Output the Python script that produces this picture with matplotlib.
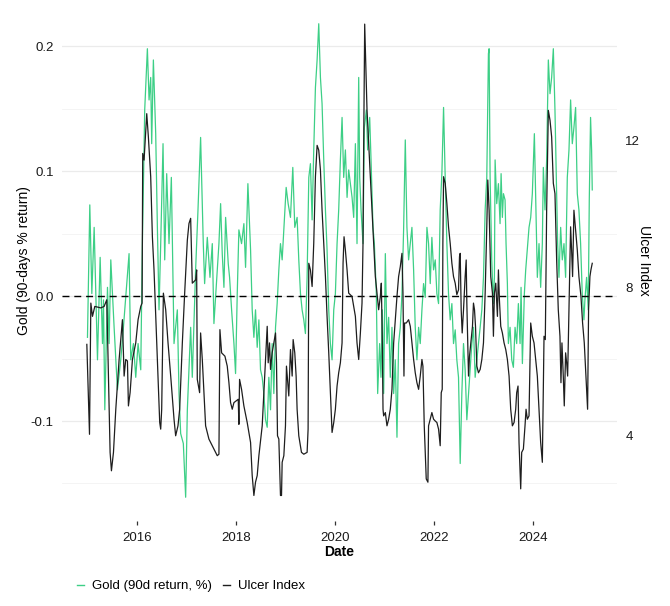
import matplotlib
matplotlib.use("Agg")
import matplotlib.pyplot as plt
from matplotlib.ticker import MultipleLocator, FixedLocator, FuncFormatter
from matplotlib.lines import Line2D

plt.rcParams['font.family'] = ['Liberation Sans', 'DejaVu Sans']

# Gold 90-day return (decimal years, return as fraction)
gold_dates = [
    2015.005, 2015.052, 2015.093, 2015.140, 2015.207, 2015.261, 2015.308, 2015.328, 2015.355, 2015.409,
    2015.442, 2015.476, 2015.543, 2015.610, 2015.677, 2015.731, 2015.778, 2015.845, 2015.879, 2015.933,
    2015.980, 2016.027, 2016.081, 2016.114, 2016.161, 2016.215, 2016.249, 2016.282, 2016.302, 2016.336,
    2016.383, 2016.417, 2016.450, 2016.484, 2016.531, 2016.565, 2016.605, 2016.652, 2016.699, 2016.753,
    2016.820, 2016.854, 2016.887, 2016.941, 2016.988, 2017.022, 2017.089, 2017.122, 2017.189, 2017.237,
    2017.290, 2017.344, 2017.371, 2017.425, 2017.479, 2017.526, 2017.559, 2017.660, 2017.694, 2017.727,
    2017.761, 2017.795, 2017.848, 2017.875, 2017.916, 2017.963, 2017.996, 2018.030, 2018.063, 2018.117,
    2018.164, 2018.198, 2018.245, 2018.299, 2018.332, 2018.366, 2018.399, 2018.433, 2018.467, 2018.500,
    2018.534, 2018.567, 2018.601, 2018.635, 2018.668, 2018.702, 2018.735, 2018.769, 2018.803, 2018.836,
    2018.870, 2018.903, 2018.937, 2018.971, 2019.018, 2019.058, 2019.105, 2019.152, 2019.192, 2019.239,
    2019.273, 2019.307, 2019.340, 2019.374, 2019.407, 2019.441, 2019.475, 2019.508, 2019.542, 2019.575,
    2019.609, 2019.643, 2019.676, 2019.710, 2019.743, 2019.777, 2019.811, 2019.844, 2019.878, 2019.911,
    2019.945, 2019.979, 2020.012, 2020.046, 2020.079, 2020.113, 2020.147, 2020.180, 2020.214, 2020.248,
    2020.281, 2020.349, 2020.382, 2020.416, 2020.449, 2020.483, 2020.503, 2020.530, 2020.570, 2020.597,
    2020.638, 2020.664, 2020.705, 2020.732, 2020.772, 2020.799, 2020.839, 2020.866, 2020.906, 2020.933,
    2020.960, 2020.987, 2021.021, 2021.054, 2021.088, 2021.121, 2021.155, 2021.189, 2021.222, 2021.256,
    2021.289, 2021.323, 2021.357, 2021.390, 2021.424, 2021.457, 2021.491, 2021.525, 2021.558, 2021.592,
    2021.625, 2021.659, 2021.693, 2021.726, 2021.760, 2021.793, 2021.827, 2021.861, 2021.894, 2021.928,
    2021.961, 2021.995, 2022.029, 2022.062, 2022.096, 2022.129, 2022.163, 2022.197, 2022.230, 2022.264,
    2022.297, 2022.331, 2022.365, 2022.398, 2022.432, 2022.465, 2022.499, 2022.533, 2022.566, 2022.600,
    2022.633, 2022.667, 2022.701, 2022.734, 2022.768, 2022.801, 2022.835, 2022.869, 2022.902, 2022.936,
    2022.970, 2023.003, 2023.037, 2023.070, 2023.103, 2023.117, 2023.137, 2023.170, 2023.204, 2023.224,
    2023.238, 2023.271, 2023.305, 2023.338, 2023.359, 2023.385, 2023.406, 2023.439, 2023.459, 2023.486,
    2023.506, 2023.540, 2023.574, 2023.607, 2023.641, 2023.674, 2023.708, 2023.742, 2023.762, 2023.789,
    2023.829, 2023.856, 2023.896, 2023.923, 2023.957, 2023.990, 2024.031, 2024.057, 2024.091, 2024.125,
    2024.158, 2024.192, 2024.212, 2024.246, 2024.279, 2024.313, 2024.347, 2024.380, 2024.414, 2024.447,
    2024.467, 2024.501, 2024.528, 2024.562, 2024.595, 2024.629, 2024.662, 2024.696, 2024.730, 2024.763,
    2024.797, 2024.830, 2024.864, 2024.898, 2024.931, 2024.965, 2024.998, 2025.032, 2025.052, 2025.086,
    2025.119, 2025.140, 2025.166, 2025.187, 2025.200,
]
gold_return = [
    -0.033, 0.073, 0.002, 0.055, -0.051, 0.031, -0.038, -0.003, -0.091, 0.007,
    -0.038, 0.029, -0.025, -0.075, -0.051, -0.025, -0.001, 0.034, -0.051, -0.038,
    -0.065, -0.038, -0.059, 0.042, 0.149, 0.198, 0.157, 0.175, 0.122, 0.189,
    0.130, 0.055, -0.011, 0.042, 0.122, 0.029, 0.098, 0.042, 0.095, -0.038,
    -0.011, -0.078, -0.110, -0.118, -0.161, -0.091, -0.025, -0.065, 0.021, 0.069,
    0.127, 0.042, 0.010, 0.047, 0.015, 0.042, -0.022, 0.042, 0.074, 0.034,
    0.007, 0.063, 0.026, 0.015, -0.011, -0.038, -0.062, 0.002, 0.053, 0.042,
    0.058, 0.023, 0.090, 0.037, -0.011, -0.033, -0.011, -0.041, -0.019, -0.059,
    -0.065, -0.078, -0.099, -0.105, -0.065, -0.091, -0.038, -0.078, -0.025, -0.006,
    0.021, 0.042, 0.029, 0.053, 0.087, 0.074, 0.063, 0.103, 0.055, 0.063,
    0.029, 0.002, -0.011, -0.019, -0.030, 0.015, 0.095, 0.106, 0.061, 0.117,
    0.167, 0.189, 0.218, 0.175, 0.154, 0.109, 0.069, 0.037, -0.011, -0.038,
    -0.051, -0.011, 0.002, 0.042, 0.069, 0.109, 0.143, 0.095, 0.117, 0.079,
    0.101, 0.079, 0.063, 0.122, 0.042, 0.175, 0.095, 0.069, 0.042, 0.135,
    0.149, 0.117, 0.143, 0.109, 0.055, 0.042, 0.002, -0.078, -0.038, -0.065,
    -0.011, -0.078, 0.034, -0.038, -0.017, -0.065, -0.025, -0.078, -0.051, -0.113,
    -0.038, -0.025, 0.002, 0.053, 0.125, 0.055, 0.029, 0.042, 0.055, 0.021,
    -0.025, -0.051, -0.025, -0.038, -0.011, 0.010, -0.001, 0.055, 0.042, 0.010,
    0.047, 0.021, 0.029, 0.002, -0.006, 0.069, 0.098, 0.151, 0.095, 0.042,
    0.002, -0.019, -0.006, -0.038, -0.027, -0.051, -0.065, -0.134, -0.078, -0.038,
    -0.059, -0.099, -0.078, -0.059, -0.038, -0.025, -0.065, -0.051, -0.038, -0.025,
    -0.011, 0.015, 0.069, 0.095, 0.194, 0.198, 0.095, 0.029, -0.006, 0.015,
    0.109, 0.074, 0.090, 0.058, 0.098, 0.063, 0.082, 0.077, 0.042, 0.010,
    -0.038, -0.025, -0.051, -0.057, -0.025, -0.038, -0.006, -0.038, 0.007, -0.054,
    0.002, 0.021, 0.042, 0.055, 0.063, 0.082, 0.130, 0.079, 0.015, 0.042,
    0.007, 0.042, 0.103, 0.069, 0.109, 0.189, 0.162, 0.175, 0.198, 0.149,
    0.109, 0.042, 0.015, 0.055, 0.029, 0.042, 0.015, 0.095, 0.117, 0.157,
    0.122, 0.135, 0.151, 0.082, 0.069, 0.042, 0.002, -0.019, -0.003, 0.015,
    -0.011, 0.077, 0.143, 0.117, 0.085,
]

# Ulcer index (decimal years, index value)
ulcer_dates = [
    2014.992, 2015.046, 2015.073, 2015.106, 2015.153, 2015.274, 2015.341, 2015.395, 2015.462, 2015.489,
    2015.530, 2015.577, 2015.644, 2015.711, 2015.745, 2015.778, 2015.812, 2015.832, 2015.866, 2015.913,
    2015.980, 2016.027, 2016.081, 2016.108, 2016.121, 2016.148, 2016.202, 2016.235, 2016.282, 2016.316,
    2016.349, 2016.403, 2016.464, 2016.484, 2016.504, 2016.538, 2016.585, 2016.632, 2016.686, 2016.753,
    2016.786, 2016.833, 2016.867, 2016.921, 2016.968, 2017.022, 2017.055, 2017.089, 2017.122, 2017.190,
    2017.210, 2017.223, 2017.270, 2017.290, 2017.324, 2017.391, 2017.458, 2017.492, 2017.559, 2017.626,
    2017.660, 2017.680, 2017.714, 2017.781, 2017.828, 2017.862, 2017.895, 2017.929, 2017.963, 2018.050,
    2018.063, 2018.077, 2018.117, 2018.164, 2018.231, 2018.299, 2018.332, 2018.366, 2018.399, 2018.433,
    2018.467, 2018.534, 2018.567, 2018.601, 2018.635, 2018.655, 2018.682, 2018.702, 2018.735, 2018.769,
    2018.803, 2018.823, 2018.843, 2018.870, 2018.903, 2018.924, 2018.937, 2018.971, 2019.004, 2019.024,
    2019.071, 2019.105, 2019.139, 2019.159, 2019.192, 2019.219, 2019.239, 2019.273, 2019.327, 2019.374,
    2019.441, 2019.461, 2019.475, 2019.508, 2019.542, 2019.575, 2019.609, 2019.643, 2019.676, 2019.710,
    2019.743, 2019.777, 2019.811, 2019.844, 2019.878, 2019.911, 2019.945, 2019.979, 2020.012, 2020.046,
    2020.079, 2020.113, 2020.147, 2020.167, 2020.187, 2020.214, 2020.248, 2020.281, 2020.348, 2020.416,
    2020.449, 2020.483, 2020.517, 2020.550, 2020.570, 2020.584, 2020.604, 2020.624, 2020.651, 2020.685,
    2020.718, 2020.752, 2020.785, 2020.819, 2020.853, 2020.886, 2020.920, 2020.940, 2020.960, 2020.974,
    2020.987, 2021.021, 2021.054, 2021.088, 2021.121, 2021.155, 2021.189, 2021.222, 2021.256, 2021.289,
    2021.323, 2021.357, 2021.377, 2021.397, 2021.410, 2021.444, 2021.491, 2021.525, 2021.558, 2021.592,
    2021.625, 2021.659, 2021.693, 2021.726, 2021.760, 2021.780, 2021.807, 2021.847, 2021.881, 2021.894,
    2021.928, 2021.961, 2021.995, 2022.029, 2022.062, 2022.096, 2022.129, 2022.150, 2022.170, 2022.183,
    2022.197, 2022.230, 2022.264, 2022.297, 2022.331, 2022.365, 2022.398, 2022.432, 2022.465, 2022.499,
    2022.519, 2022.533, 2022.553, 2022.573, 2022.600, 2022.633, 2022.654, 2022.667, 2022.701, 2022.721,
    2022.748, 2022.781, 2022.801, 2022.822, 2022.842, 2022.869, 2022.902, 2022.936, 2022.970, 2023.003,
    2023.037, 2023.070, 2023.090, 2023.117, 2023.150, 2023.184, 2023.204, 2023.224, 2023.251, 2023.285,
    2023.305, 2023.325, 2023.352, 2023.385, 2023.419, 2023.453, 2023.486, 2023.520, 2023.553, 2023.587,
    2023.621, 2023.654, 2023.674, 2023.701, 2023.721, 2023.755, 2023.775, 2023.809, 2023.842, 2023.863,
    2023.889, 2023.923, 2023.957, 2023.990, 2024.024, 2024.057, 2024.091, 2024.125, 2024.158, 2024.192,
    2024.226, 2024.252, 2024.279, 2024.313, 2024.347, 2024.380, 2024.414, 2024.447, 2024.481, 2024.514,
    2024.548, 2024.568, 2024.588, 2024.615, 2024.635, 2024.662, 2024.683, 2024.703, 2024.730, 2024.763,
    2024.783, 2024.803, 2024.830, 2024.864, 2024.898, 2024.931, 2024.972, 2025.005, 2025.039, 2025.073,
    2025.106, 2025.126, 2025.153, 2025.173, 2025.200,
]
ulcer_index = [
    6.46, 4.02, 7.58, 7.22, 7.49, 7.45, 7.49, 7.67, 3.53, 3.03,
    3.53, 4.70, 6.05, 7.13, 5.60, 6.05, 6.01, 4.79, 5.15, 6.05,
    6.50, 7.13, 7.49, 7.58, 11.64, 11.46, 12.72, 12.09, 11.01, 9.38,
    8.48, 6.50, 4.34, 4.16, 4.70, 7.85, 7.40, 6.50, 5.60, 4.43,
    3.98, 4.25, 4.70, 6.50, 7.85, 9.29, 9.74, 9.88, 8.12, 8.21,
    8.48, 5.51, 5.15, 6.77, 6.05, 4.25, 3.89, 3.80, 3.62, 3.44,
    3.48, 6.86, 6.23, 6.14, 5.87, 5.42, 4.88, 4.70, 4.88, 4.97,
    4.29, 5.51, 5.24, 4.79, 4.34, 3.80, 2.90, 2.36, 2.72, 2.90,
    3.44, 4.25, 5.15, 6.05, 6.95, 5.96, 6.50, 5.78, 6.23, 6.50,
    6.77, 5.96, 3.98, 3.89, 2.36, 2.36, 3.26, 3.44, 4.25, 5.87,
    5.06, 6.32, 5.60, 6.59, 6.23, 5.60, 4.70, 3.98, 3.53, 3.48,
    3.53, 4.16, 8.66, 8.48, 8.03, 9.20, 11.01, 11.86, 11.73, 11.19,
    10.10, 9.20, 8.30, 7.22, 6.23, 5.15, 4.07, 4.34, 4.70, 5.33,
    5.69, 5.96, 6.50, 8.66, 9.38, 9.02, 8.48, 7.85, 7.76, 7.22,
    6.50, 6.05, 6.77, 7.58, 9.20, 11.91, 15.15, 14.16, 12.81, 11.91,
    11.01, 10.10, 9.20, 8.30, 7.85, 7.40, 7.76, 8.12, 6.50, 4.70,
    4.52, 4.61, 4.25, 4.43, 4.70, 5.24, 6.50, 7.13, 7.76, 8.30,
    8.57, 8.93, 7.85, 5.60, 7.04, 7.04, 7.13, 6.95, 6.50, 6.05,
    5.69, 5.42, 5.24, 5.60, 6.05, 5.87, 4.25, 2.81, 2.72, 4.25,
    4.43, 4.61, 4.43, 4.38, 4.34, 4.16, 3.71, 5.15, 5.24, 9.20,
    11.01, 10.83, 10.28, 9.65, 9.20, 8.66, 8.30, 8.12, 7.81, 7.94,
    8.84, 8.93, 7.40, 6.77, 7.40, 8.30, 8.75, 7.58, 5.60, 6.14,
    6.50, 6.95, 7.58, 7.40, 6.95, 5.87, 5.69, 5.78, 6.05, 6.50,
    7.85, 9.65, 10.92, 10.10, 8.30, 7.85, 6.68, 7.85, 8.12, 7.22,
    8.48, 7.67, 6.95, 6.77, 6.50, 6.32, 6.05, 5.60, 4.70, 4.25,
    4.34, 4.70, 5.15, 5.33, 3.80, 2.54, 3.53, 3.62, 4.25, 4.70,
    4.43, 4.52, 7.04, 6.68, 6.50, 6.05, 5.60, 4.70, 3.80, 3.26,
    6.68, 6.59, 10.10, 12.81, 12.54, 12.09, 10.83, 10.55, 8.75, 7.40,
    6.68, 5.42, 6.50, 5.60, 4.79, 6.23, 5.96, 5.60, 7.40, 9.65,
    9.02, 8.30, 10.10, 9.56, 9.02, 8.30, 7.76, 7.04, 6.50, 5.60,
    4.70, 7.40, 8.30, 8.48, 8.66,
]

year_ticks = [2016, 2018, 2020, 2022, 2024]
ulcer_ticks = [4, 8, 12]

green = '#3DCF86'
dark = '#1e1e1e'

# secondary axis mapping used by the original chart: ulcer = a + b * gold
sec_a, sec_b = 7.77, 33.9
gold_lim = (-0.18, 0.237)

fig = plt.figure(figsize=(6.7, 6.06), dpi=100)
ax = fig.add_axes([0.0925, 0.1403, 0.8284, 0.8597])
ax2 = ax.twinx()

ax.plot(gold_dates, gold_return, color=green, lw=0.9, zorder=2)
ax2.plot(ulcer_dates, ulcer_index, color=dark, lw=0.9, zorder=3)
ax.axhline(0, color='black', lw=1.0, ls=(0, (5, 3.5)), zorder=4)

ax.set_xlim(2014.49, 2025.70)
ax.set_ylim(*gold_lim)
ax2.set_ylim(sec_a + sec_b * gold_lim[0], sec_a + sec_b * gold_lim[1])

ax.xaxis.set_major_locator(FixedLocator(year_ticks))
ax.xaxis.set_major_formatter(FuncFormatter(lambda v, p: f"{int(v)}"))
ax.yaxis.set_major_locator(MultipleLocator(0.1))
ax.yaxis.set_minor_locator(MultipleLocator(0.05))
ax.yaxis.set_major_formatter(FuncFormatter(lambda v, p: f"{v:.1f}"))
ax2.yaxis.set_major_locator(FixedLocator(ulcer_ticks))

ax.grid(axis='y', which='major', color='#EBEBEB', lw=0.9)
ax.grid(axis='y', which='minor', color='#F3F3F3', lw=0.6)
ax.set_axisbelow(True)

for a in (ax, ax2):
    for s in a.spines.values():
        s.set_visible(False)

ax.tick_params(axis='x', length=3, width=0.9, color='#333333', labelsize=9.5,
               labelcolor='#1a1a1a', pad=5)
ax.tick_params(axis='y', which='both', length=0, labelsize=9.5, labelcolor='#1a1a1a', pad=6)
ax2.tick_params(axis='y', length=0, labelsize=9.5, labelcolor='#1a1a1a', pad=6)

ax.set_xlabel('Date', fontsize=10, fontweight='bold', labelpad=1)
ax.set_ylabel('Gold (90-days % return)', fontsize=10, labelpad=0)
ax2.set_ylabel('Ulcer Index', fontsize=10, rotation=-90, labelpad=8)

handles = [Line2D([], [], color=green, lw=1.0), Line2D([], [], color=dark, lw=1.0)]
fig.legend(handles, ['Gold (90d return, %)', 'Ulcer Index'], loc='center left',
           bbox_to_anchor=(0.105, 0.033), ncol=2, frameon=False, fontsize=9.5,
           handlelength=0.55, handletextpad=0.6, columnspacing=0.8, borderpad=0)

fig.savefig('out.png', dpi=100)
